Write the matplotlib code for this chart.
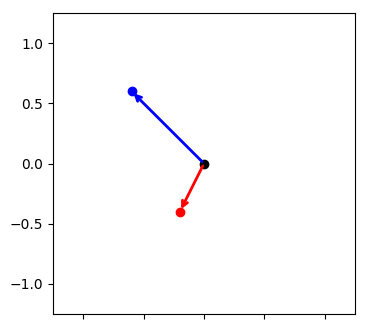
import matplotlib
matplotlib.use("Agg")
import matplotlib.pyplot as plt

origin = (0.0, 0.0)
vec_x = [-0.6, -0.2]
vec_y = [0.6, -0.4]
colors = ["blue", "red"]

fig = plt.figure(figsize=(3.68, 3.23), dpi=100)
ax = fig.add_axes([53/368, 1-314/323, 302/368, 301/323])

ax.scatter([origin[0]], [origin[1]], color="black", zorder=3)
for x, y, c in zip(vec_x, vec_y, colors):
    ax.scatter([x], [y], color=c, zorder=3)
    ax.annotate("", xy=(x, y), xytext=origin,
                arrowprops=dict(arrowstyle="->", color=c, lw=2))

ax.set_xlim(-1.25, 1.25)
ax.set_ylim(-1.25, 1.25)
ax.set_xticks([-1, -0.5, 0, 0.5, 1])
ax.set_yticks([-1, -0.5, 0, 0.5, 1])
fig.savefig("out.png", dpi=100)
